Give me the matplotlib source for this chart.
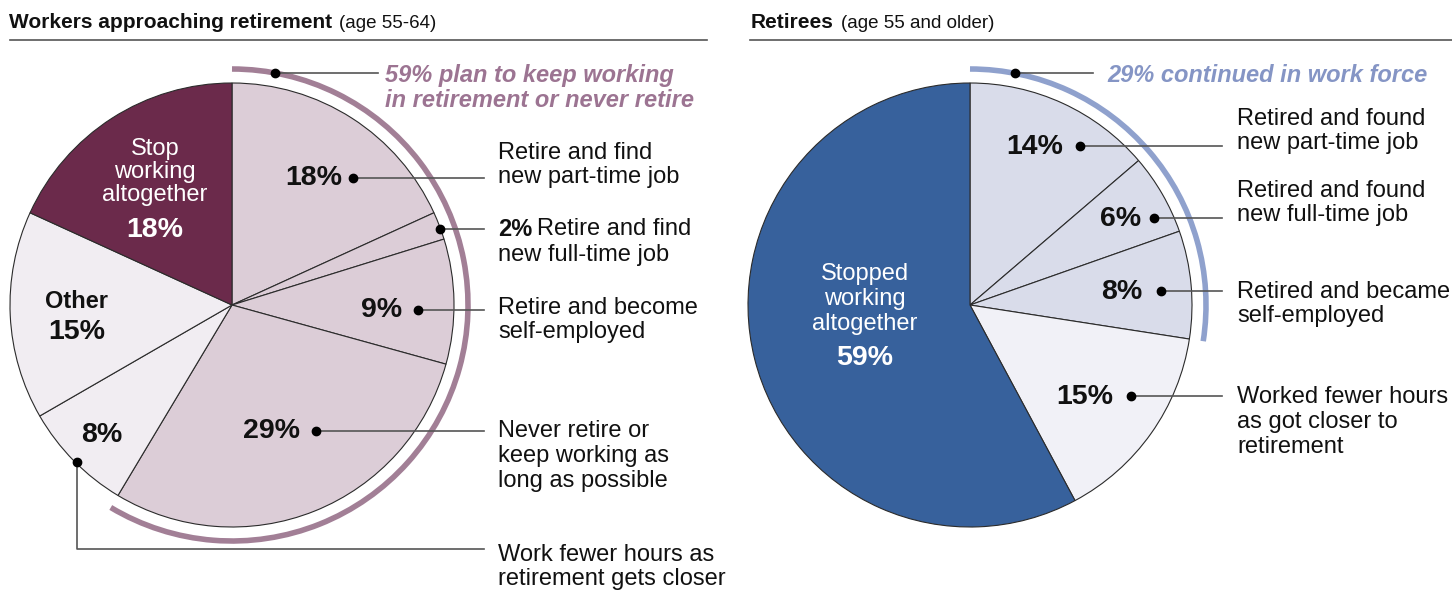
import matplotlib
matplotlib.use("Agg")
import matplotlib.pyplot as plt
from matplotlib.patches import Arc

plt.rcParams['font.family'] = ['Liberation Sans', 'DejaVu Sans']

W, H = 1452, 593

# Data (clockwise from 12 o'clock)
workers_labels = ['Retire and find new part-time job', 'Retire and find new full-time job',
                  'Retire and become self-employed', 'Never retire or keep working as long as possible',
                  'Work fewer hours as retirement gets closer', 'Other', 'Stop working altogether']
workers_values = [18, 2, 9, 29, 8, 15, 18]
workers_keep = 59

retirees_labels = ['Retired and found new part-time job', 'Retired and found new full-time job',
                   'Retired and became self-employed', 'Worked fewer hours as got closer to retirement',
                   'Stopped working altogether']
retirees_values = [14, 6, 8, 15, 59]
retirees_continued = 29

# Colours
mauve_light = '#dccdd7'
mauve_pale = '#f1edf2'
mauve_dark = '#6b2a4b'
mauve_arc = '#a27f96'
mauve_text = '#9c7492'
blue_dark = '#37619c'
blue_light = '#d9dcea'
blue_pale = '#f1f1f7'
blue_arc = '#8fa1cd'
blue_text = '#8595c5'
line_col = '#555555'


def P(x, y):
    # pixel coordinates (from top-left) -> data coordinates
    return (x, H - y)


fig = plt.figure(figsize=(W / 100, H / 100), dpi=100)
ax = fig.add_axes([0, 0, 1, 1])

R = 222
ARC_R = 236
wedge_kw = dict(edgecolor='#2b2b2b', linewidth=0.8)

# ---------- left pie ----------
c1 = P(232, 305)
ax.pie(workers_values, startangle=90, counterclock=False, center=c1, radius=R,
       colors=[mauve_light] * 4 + [mauve_pale] * 2 + [mauve_dark],
       wedgeprops=wedge_kw, frame=True)
span = sum(workers_values[:4]) / sum(workers_values) * 360
ax.add_patch(Arc(c1, 2 * ARC_R, 2 * ARC_R, theta1=90 - span, theta2=90,
                 color=mauve_arc, linewidth=4))

# ---------- right pie ----------
c2 = P(970, 305)
ax.pie(retirees_values, startangle=90, counterclock=False, center=c2, radius=R,
       colors=[blue_light] * 3 + [blue_pale] + [blue_dark],
       wedgeprops=wedge_kw, frame=True)
span = sum(retirees_values[:3]) / sum(retirees_values) * 360
ax.add_patch(Arc(c2, 2 * ARC_R, 2 * ARC_R, theta1=90 - span, theta2=90,
                 color=blue_arc, linewidth=4))

ax.set_xlim(0, W)
ax.set_ylim(0, H)
ax.set_aspect('equal')
ax.axis('off')

LAB = 17
PCT = 20.5
LS = 1.16


def dot(x, y):
    ax.plot(*P(x, y), 'o', color='black', markersize=6, zorder=5)


def leader(pts):
    xs = [p[0] for p in pts]
    ys = [H - p[1] for p in pts]
    ax.plot(xs, ys, color=line_col, linewidth=1.2, zorder=4)


def txt(x, y, s, **kw):
    kw.setdefault('fontsize', LAB)
    kw.setdefault('va', 'center')
    kw.setdefault('ha', 'left')
    kw.setdefault('color', '#111111')
    kw.setdefault('linespacing', LS)
    return ax.text(*P(x, y), s, **kw)


renderer = fig.canvas.get_renderer()


def right_edge(t):
    bb = t.get_window_extent(renderer=renderer)
    return bb.x1


# ---------- titles ----------
t = txt(9, 22, 'Workers approaching retirement', fontsize=15, fontweight='bold')
txt(right_edge(t) + 7, 23, '(age 55-64)', fontsize=13.5)
leader([(10, 40), (707, 40)])
t = txt(751, 22, 'Retirees', fontsize=15, fontweight='bold')
txt(right_edge(t) + 7, 23, '(age 55 and older)', fontsize=13.5)
leader([(750, 40), (1452, 40)])

# ---------- left labels ----------
dot(275, 73)
leader([(275, 73), (378, 73)])
txt(385, 88, f'{workers_keep}% plan to keep working\nin retirement or never retire',
    fontsize=17, fontweight='bold', style='italic', color=mauve_text)

txt(342, 178, f'{workers_values[0]}%', fontsize=PCT, fontweight='bold', ha='right')
dot(353, 178)
leader([(353, 178), (484, 178)])
txt(498, 165, 'Retire and find\nnew part-time job')

dot(440, 229)
leader([(440, 229), (484, 229)])
t = txt(498, 229, f'{workers_values[1]}%', fontweight='bold')
txt(right_edge(t) + 5, 229, 'Retire and find')
txt(498, 255, 'new full-time job')

txt(402, 310, f'{workers_values[2]}%', fontsize=PCT, fontweight='bold', ha='right')
dot(418, 310)
leader([(418, 310), (484, 310)])
txt(498, 320, 'Retire and become\nself-employed')

txt(300, 431, f'{workers_values[3]}%', fontsize=PCT, fontweight='bold', ha='right')
dot(316, 431)
leader([(316, 431), (484, 431)])
txt(498, 456, 'Never retire or\nkeep working as\nlong as possible')

txt(102, 435, f'{workers_values[4]}%', fontsize=PCT, fontweight='bold', ha='center')
dot(77, 462)
leader([(77, 462), (77, 549), (484, 549)])
txt(498, 567, 'Work fewer hours as\nretirement gets closer')

txt(77, 301, 'Other', fontsize=LAB, fontweight='bold', ha='center')
txt(77, 332, f'{workers_values[5]}%', fontsize=PCT, fontweight='bold', ha='center')

txt(155, 172, 'Stop\nworking\naltogether', ha='center', color='white', linespacing=1.08)
txt(155, 230, f'{workers_values[6]}%', fontsize=PCT, fontweight='bold', ha='center', color='white')

# ---------- right labels ----------
dot(1015, 73)
leader([(1015, 73), (1093, 73)])
txt(1107, 75, f'{retirees_continued}% continued in work force',
    fontsize=17, fontweight='bold', style='italic', color=blue_text)

txt(1063, 147, f'{retirees_values[0]}%', fontsize=PCT, fontweight='bold', ha='right')
dot(1080, 146)
leader([(1080, 146), (1222, 146)])
txt(1237, 131, 'Retired and found\nnew part-time job')

txt(1141, 219, f'{retirees_values[1]}%', fontsize=PCT, fontweight='bold', ha='right')
dot(1154, 218)
leader([(1154, 218), (1222, 218)])
txt(1237, 203, 'Retired and found\nnew full-time job')

txt(1142, 292, f'{retirees_values[2]}%', fontsize=PCT, fontweight='bold', ha='right')
dot(1161, 291)
leader([(1161, 291), (1222, 291)])
txt(1237, 304, 'Retired and became\nself-employed')

txt(1113, 397, f'{retirees_values[3]}%', fontsize=PCT, fontweight='bold', ha='right')
dot(1131, 396)
leader([(1131, 396), (1222, 396)])
txt(1237, 422, 'Worked fewer hours\nas got closer to\nretirement')

txt(865, 299, 'Stopped\nworking\naltogether', ha='center', color='white')
txt(865, 358, f'{retirees_values[4]}%', fontsize=PCT, fontweight='bold', ha='center', color='white')

fig.savefig('out.png', dpi=100)
